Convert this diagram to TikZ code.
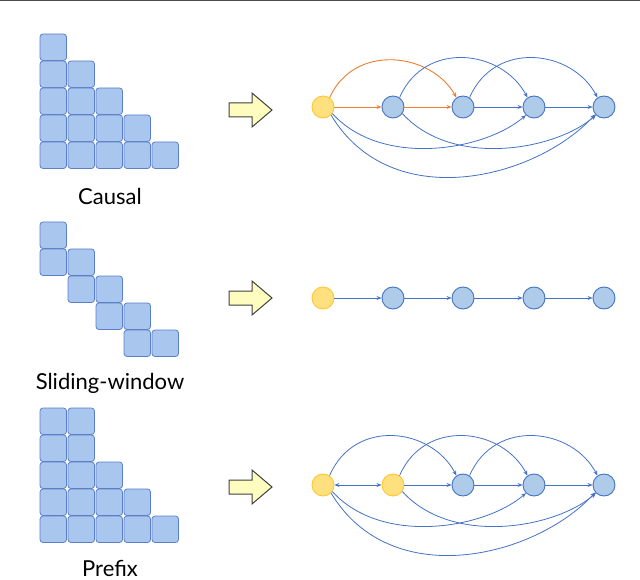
\documentclass[tikz,border=0pt]{standalone}
\usepackage{fontspec}
\setmainfont{Lato}
\usetikzlibrary{arrows.meta}
\definecolor{nblue}{HTML}{AFCBEA}
\definecolor{eblue}{HTML}{4472C4}
\definecolor{nyel}{HTML}{FFE07E}
\definecolor{byel}{HTML}{FFC734}
\definecolor{eor}{HTML}{ED7D31}
\definecolor{sq}{HTML}{A9C6EE}
\definecolor{sqb}{HTML}{5B7FC8}
\begin{document}
\begin{tikzpicture}[x=1pt,y=-1pt,
 sqr/.style={draw=sqb,fill=sq,rounded corners=3pt,line width=0.8pt},
 bn/.style={circle,draw=eblue,fill=nblue,minimum size=22pt,inner sep=0pt,line width=0.9pt},
 yn/.style={circle,draw=byel,fill=nyel,minimum size=22pt,inner sep=0pt,line width=0.9pt},
 e/.style={draw=eblue,line width=0.8pt,-{Stealth[length=5pt,width=4pt]}},
 eo/.style={draw=eor,line width=0.9pt,-{Stealth[length=5pt,width=4pt]}},
 lab/.style={font=\fontsize{22}{26}\selectfont},
 bigarr/.style={draw=black!75,fill=yellow!25,line width=1pt}]
\useasboundingbox (0,0) rectangle (640,580);
\draw[black!70,line width=0.6pt] (0,0.5) -- (640,0.5);
% squares
\newcommand{\sqat}[2]{\draw[sqr] ({40+28*#1},{#2}) rectangle ++(26.5,26.5);}
\foreach \r in {0,...,4}{\foreach \c in {0,...,\r}{\sqat{\c}{34+27*\r}}}
\sqat{0}{222}\sqat{0}{249}\sqat{1}{249}\sqat{1}{276}\sqat{2}{276}
\sqat{2}{303}\sqat{3}{303}\sqat{3}{330}\sqat{4}{330}
\sqat{0}{408}\sqat{1}{408}
\foreach \r in {1,...,4}{\foreach \c in {0,...,\r}{\sqat{\c}{408+27*\r}}}
\node[lab] (l1) at (110,196) {Causal};
\node[lab] (l2) at (110,383) {Sliding-window};
\node[lab] (l3) at (110,568) {Prefix};
% block arrows
\foreach \y in {110,298,487}{
\draw[bigarr] (229,{\y-7}) -- (252,{\y-7}) -- (252,{\y-17}) -- (272,\y) -- (252,{\y+17}) -- (252,{\y+7}) -- (229,{\y+7}) -- cycle;}
% graph 1
\node[yn] (a0) at (323,107) {};
\node[bn] (a1) at (393,107) {};
\node[bn] (a2) at (463,107) {};
\node[bn] (a3) at (534,107) {};
\node[bn] (a4) at (604,107) {};
\draw[eo] (a0) -- (a1);
\draw[eo] (a1) -- (a2);
\draw[eo] (a0.55) .. controls +(25,-55) and +(-25,-45) .. (a2.125);
\draw[e] (a2) -- (a3);
\draw[e] (a3) -- (a4);
\draw[e] (a1.55) .. controls +(25,-58) and +(-25,-48) .. (a3.125);
\draw[e] (a2.55) .. controls +(25,-58) and +(-25,-48) .. (a4.125);
\draw[e] (a0.-35) .. controls +(50,55) and +(-40,35) .. (a3.-135);
\draw[e] (a1.-35) .. controls +(50,55) and +(-40,35) .. (a4.-135);
\draw[e] (a0.-45) .. controls +(60,100) and +(-60,65) .. (a4.-140);
% graph 2
\node[yn] (b0) at (323,298) {};
\node[bn] (b1) at (393,298) {};
\node[bn] (b2) at (463,298) {};
\node[bn] (b3) at (534,298) {};
\node[bn] (b4) at (604,298) {};
\draw[e] (b0) -- (b1);
\draw[e] (b1) -- (b2);
\draw[e] (b2) -- (b3);
\draw[e] (b3) -- (b4);
% graph 3
\node[yn] (c0) at (323,485) {};
\node[yn] (c1) at (393,485) {};
\node[bn] (c2) at (463,485) {};
\node[bn] (c3) at (534,485) {};
\node[bn] (c4) at (604,485) {};
\draw[e,{Stealth[length=5pt,width=4pt]}-{Stealth[length=5pt,width=4pt]}] (c0) -- (c1);
\draw[e] (c1) -- (c2);
\draw[e] (c2) -- (c3);
\draw[e] (c3) -- (c4);
\draw[e] (c0.55) .. controls +(25,-58) and +(-25,-48) .. (c2.125);
\draw[e] (c1.55) .. controls +(25,-58) and +(-25,-48) .. (c3.125);
\draw[e] (c2.55) .. controls +(25,-58) and +(-25,-48) .. (c4.125);
\draw[e] (c0.-35) .. controls +(50,55) and +(-40,35) .. (c3.-135);
\draw[e] (c1.-35) .. controls +(50,55) and +(-40,35) .. (c4.-135);
\draw[e] (c0.-45) .. controls +(60,100) and +(-60,65) .. (c4.-140);
\end{tikzpicture}
\end{document}
